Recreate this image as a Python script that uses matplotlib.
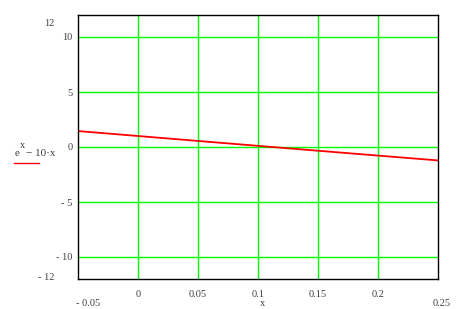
import matplotlib
matplotlib.use("Agg")
import matplotlib.pyplot as plt

# data
x_vals = [-0.05, 0.0, 0.05, 0.10, 0.15, 0.20, 0.25]
y_vals = [1.45, 1.00, 0.55, 0.105, -0.34, -0.78, -1.22]
x_ticks = [0, 0.05, 0.1, 0.15, 0.2]
x_tick_labels = ["0", "0.05", "0.1", "0.15", "0.2"]
y_ticks = [-10, -5, 0, 5, 10]
y_tick_labels = ["- 10", "- 5", "0", "5", "10"]
x_min, x_max = -0.05, 0.25
y_min, y_max = -12, 12

plt.rcParams['font.family'] = ['Liberation Serif', 'DejaVu Serif']

W, H = 466, 309
fig = plt.figure(figsize=(W/100, H/100), dpi=100)
L, R, T, B = 78, 438, 15, 279
ax = fig.add_axes([L/W, 1-B/H, (R-L)/W, (B-T)/H])
ax.set_xlim(x_min, x_max)
ax.set_ylim(y_min, y_max)

tc = '#404040'
fs = 7.5
ax.set_xticks(x_ticks)
ax.set_xticklabels(x_tick_labels, fontsize=fs, color=tc)
ax.set_yticks(y_ticks)
ax.set_yticklabels(y_tick_labels, fontsize=fs, color=tc)
ax.tick_params(length=0, pad=4)
ax.tick_params(axis='x', pad=8)
ax.grid(True, color='#00ff00', linewidth=1.0)
ax.set_axisbelow(True)
for s in ax.spines.values():
    s.set_linewidth(1.0)
    s.set_color('black')

ax.plot(x_vals, y_vals, color='red', linewidth=1.3)

# extreme labels
fig.text(54/W, 1-23/H, "12", fontsize=fs, color=tc, ha='right', va='center')
fig.text(54/W, 1-277/H, "- 12", fontsize=fs, color=tc, ha='right', va='center')
fig.text(88/W, 1-303/H, "- 0.05", fontsize=fs, color=tc, ha='center', va='center')
fig.text(442/W, 1-303/H, "0.25", fontsize=fs, color=tc, ha='center', va='center')
fig.text(263/W, 1-303/H, "x", fontsize=fs, color=tc, ha='center', va='center')

# y-axis label (legend style), composed of pieces
fig.text(15/W, 1-153/H, "e", fontsize=8, color=tc, ha='left', va='center')
fig.text(20/W, 1-146/H, "x", fontsize=7.5, color=tc, ha='left', va='center')
fig.text(26/W, 1-153/H, "\u2212 10\u00b7x", fontsize=8, color=tc, ha='left', va='center')
fig.add_artist(plt.Line2D([14/W, 39/W], [1-163/H, 1-163/H], color='red', linewidth=1.0))

fig.savefig("out.png", dpi=100)
